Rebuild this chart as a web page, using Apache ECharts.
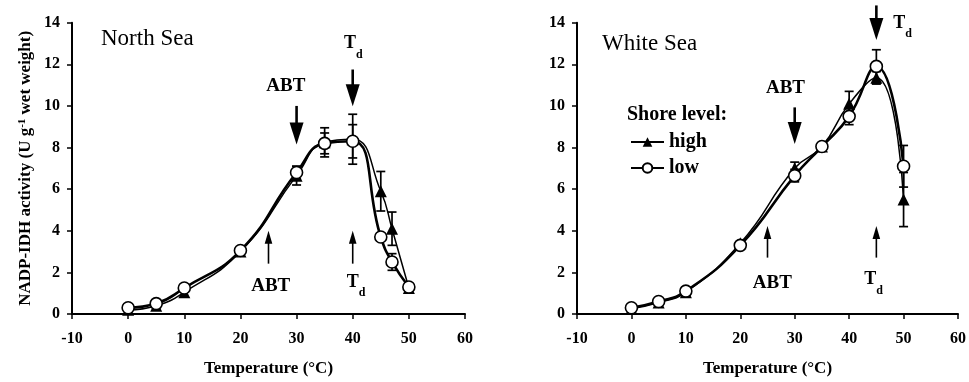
<!DOCTYPE html>
<html><head><meta charset="utf-8">
<script src="https://cdn.jsdelivr.net/npm/echarts@6/dist/echarts.min.js"></script>
<style>html,body{margin:0;padding:0;background:#fff}#c{width:969px;height:382px}</style>
</head><body><div id="c"></div>
<script>
const FONT = '"Liberation Serif", "DejaVu Serif", "Times New Roman", serif';

// ---- data ----
const nsTemp    = [0, 5, 10, 20, 30, 35, 40, 45, 47, 50];
const nsHigh    = [0.2, 0.4, 1.05, 3.0, 6.65, 8.25, 8.4, 5.9, 4.1, 1.25];
const nsHighErr = [0, 0, 0, 0, 0.45, 0.7, 1.2, 0.95, 0.8, 0];
const nsLow     = [0.3, 0.5, 1.25, 3.05, 6.8, 8.2, 8.3, 3.7, 2.5, 1.3];
const nsLowErr  = [0, 0, 0, 0, 0.3, 0.5, 0.8, 0, 0.4, 0];

const wsTemp    = [0, 5, 10, 20, 30, 35, 40, 45, 50];
const wsHigh    = [0.25, 0.55, 1.05, 3.4, 7.0, 8.05, 10.1, 11.35, 5.5];
const wsHighErr = [0, 0, 0, 0, 0.3, 0, 0.6, 0.3, 1.3];
const wsLow     = [0.3, 0.6, 1.1, 3.3, 6.65, 8.05, 9.5, 11.9, 7.1];
const wsLowErr  = [0, 0, 0, 0, 0.3, 0, 0.4, 0.8, 1.0];

const seriesNames = ['high', 'low'];
const panelTitles = ['North Sea', 'White Sea'];
const legendTitle = 'Shore level:';
const xAxisName = 'Temperature (°C)';
const xMin = -10, xMax = 60, xStep = 10;
const yMin = 0, yMax = 14, yStep = 2;

// annotations in data coordinates: [x, tailY, tipY]
const nsDownArrows = [[30, 10.0, 8.15], [40, 11.75, 9.98]];
const nsUpArrows   = [[25, 2.42, 4.0], [40, 2.42, 4.0]];
const wsDownArrows = [[30, 9.93, 8.17], [45, 14.83, 13.17]];
const wsUpArrows   = [[25, 2.71, 4.23], [45, 2.71, 4.23]];
// labels: [x, y, text]
const nsLabels = [[28.1, 10.96, 'ABT'], [40.1, 12.8, 'Td'], [25.4, 1.36, 'ABT'], [40.6, 1.33, 'Td']];
const wsLabels = [[28.3, 10.86, 'ABT'], [49.8, 13.78, 'Td'], [25.9, 1.5, 'ABT'], [44.5, 1.45, 'Td']];

// ---- helpers ----
function pairs(xs, ys) { return xs.map((x, i) => [x, ys[i]]); }
function errData(xs, ys, es) { return xs.map((x, i) => [x, ys[i], es[i]]).filter(d => d[2] > 0); }

function errRender(params, api) {
  const x = api.value(0), y = api.value(1), e = api.value(2);
  const t = api.coord([x, y + e]), b = api.coord([x, y - e]);
  const w = 4.5, st = { stroke: '#000', lineWidth: 1.7 };
  return { type: 'group', children: [
    { type: 'line', shape: { x1: t[0], y1: t[1], x2: b[0], y2: b[1] }, style: st },
    { type: 'line', shape: { x1: t[0] - w, y1: t[1], x2: t[0] + w, y2: t[1] }, style: st },
    { type: 'line', shape: { x1: b[0] - w, y1: b[1], x2: b[0] + w, y2: b[1] }, style: st }
  ]};
}
function arrowRender(big) {
  return function (params, api) {
    const x = api.value(0);
    const tail = api.coord([x, api.value(1)]), tip = api.coord([x, api.value(2)]);
    const dir = tip[1] > tail[1] ? 1 : -1;
    const hl = big ? 22 : 13, hw = big ? 7 : 3.8, lw = big ? 2.6 : 1.6;
    const base = tip[1] - dir * hl;
    return { type: 'group', children: [
      { type: 'line', shape: { x1: tail[0], y1: tail[1], x2: tip[0], y2: base + dir * 2 }, style: { stroke: '#000', lineWidth: lw } },
      { type: 'polygon', shape: { points: [[tip[0], tip[1]], [tip[0] - hw, base], [tip[0] + hw, base]] }, style: { fill: '#000' } }
    ]};
  };
}
function labelRender(params, api) {
  const p = api.coord([api.value(0), api.value(1)]);
  const txt = api.value(2);
  const isTd = txt === 'Td';
  return { type: 'text', x: p[0], y: p[1], style: {
    text: isTd ? '{t|T}{d|d}' : '{a|ABT}',
    align: 'center', verticalAlign: 'middle',
    rich: {
      a: { fontFamily: FONT, fontSize: 19, fontWeight: 'bold', fill: '#000' },
      t: { fontFamily: FONT, fontSize: 18, fontWeight: 'bold', fill: '#000', verticalAlign: 'top', lineHeight: 20 },
      d: { fontFamily: FONT, fontSize: 12, fontWeight: 'bold', fill: '#000', verticalAlign: 'bottom', lineHeight: 26 }
    }
  }};
}

const axisLabelStyle = { fontFamily: FONT, fontSize: 16, fontWeight: 'bold', color: '#000' };
function makeX(gi) {
  return {
    type: 'value', gridIndex: gi, min: xMin, max: xMax, interval: xStep,
    name: xAxisName, nameLocation: 'middle', nameGap: 46,
    nameTextStyle: { fontFamily: FONT, fontSize: 17, fontWeight: 'bold', color: '#000' },
    axisLine: { onZero: false, lineStyle: { color: '#000', width: 2 } },
    axisTick: { show: true, length: 5, inside: false, lineStyle: { color: '#000', width: 1.5 } },
    axisLabel: Object.assign({ margin: 17 }, axisLabelStyle),
    splitLine: { show: false }
  };
}
function makeY(gi, withName) {
  const ax = {
    type: 'value', gridIndex: gi, min: yMin, max: yMax, interval: yStep,
    axisLine: { show: true, onZero: false, lineStyle: { color: '#000', width: 2 } },
    axisTick: { show: true, length: 5, inside: false, lineStyle: { color: '#000', width: 1.5 } },
    axisLabel: Object.assign({ margin: 12 }, axisLabelStyle),
    splitLine: { show: false }
  };
  if (withName) {
    ax.name = 'NADP-IDH activity (U g{sup|-1} wet weight)';
    ax.nameLocation = 'middle';
    ax.nameGap = 38;
    ax.nameTextStyle = { fontFamily: FONT, fontSize: 17, fontWeight: 'bold', color: '#000',
      rich: { sup: { fontFamily: FONT, fontSize: 11, fontWeight: 'bold', color: '#000', verticalAlign: 'top', lineHeight: 10 } } };
  }
  return ax;
}
function lineSeries(name, gi, xs, ys, isHigh) {
  return {
    name: name, type: 'line', xAxisIndex: gi, yAxisIndex: gi, data: pairs(xs, ys),
    smooth: 0.5, z: 3,
    symbol: isHigh ? 'triangle' : 'circle', symbolSize: 12,
    lineStyle: { color: '#000', width: isHigh ? 1.5 : 2.6 },
    itemStyle: isHigh ? { color: '#000', borderColor: '#000', borderWidth: 0 } : { color: '#fff', borderColor: '#000', borderWidth: 1.6 },
    emphasis: { disabled: true }
  };
}
function custom(gi, data, render, z) {
  return { type: 'custom', xAxisIndex: gi, yAxisIndex: gi, data: data, renderItem: render, clip: false, z: z, silent: true };
}

const chart = echarts.init(document.getElementById('c'), null, { renderer: 'canvas' });
chart.setOption({
  animation: false,
  backgroundColor: '#fff',
  textStyle: { fontFamily: FONT },
  grid: [
    { left: 72, top: 22.7, width: 393, height: 294 },
    { left: 577, top: 22.7, width: 386, height: 294 }
  ],
  title: [
    { text: panelTitles[0], left: 96, top: 22, textStyle: { fontFamily: FONT, fontSize: 23, fontWeight: 'normal', color: '#000' } },
    { text: panelTitles[1], left: 597, top: 27, textStyle: { fontFamily: FONT, fontSize: 23, fontWeight: 'normal', color: '#000' } },
    { text: legendTitle, left: 622, top: 100, textStyle: { fontFamily: FONT, fontSize: 20, fontWeight: 'bold', color: '#000' } }
  ],
  legend: {
    data: seriesNames, orient: 'vertical', left: 625, top: 127,
    itemWidth: 33, itemHeight: 12, itemGap: 6,
    textStyle: { fontFamily: FONT, fontSize: 20, fontWeight: 'bold', color: '#000', lineHeight: 20 },
    selectedMode: false
  },
  xAxis: [makeX(0), makeX(1)],
  yAxis: [makeY(0, true), makeY(1, false)],
  series: [
    custom(0, errData(nsTemp, nsHigh, nsHighErr), errRender, 2),
    custom(0, errData(nsTemp, nsLow, nsLowErr), errRender, 2),
    lineSeries(seriesNames[0], 0, nsTemp, nsHigh, true),
    lineSeries(seriesNames[1], 0, nsTemp, nsLow, false),
    custom(1, errData(wsTemp, wsHigh, wsHighErr), errRender, 2),
    custom(1, errData(wsTemp, wsLow, wsLowErr), errRender, 2),
    lineSeries(seriesNames[0], 1, wsTemp, wsHigh, true),
    lineSeries(seriesNames[1], 1, wsTemp, wsLow, false),
    custom(0, nsDownArrows, arrowRender(true), 5),
    custom(0, nsUpArrows, arrowRender(false), 5),
    custom(1, wsDownArrows, arrowRender(true), 5),
    custom(1, wsUpArrows, arrowRender(false), 5),
    custom(0, nsLabels, labelRender, 5),
    custom(1, wsLabels, labelRender, 5)
  ]
});
</script></body></html>
